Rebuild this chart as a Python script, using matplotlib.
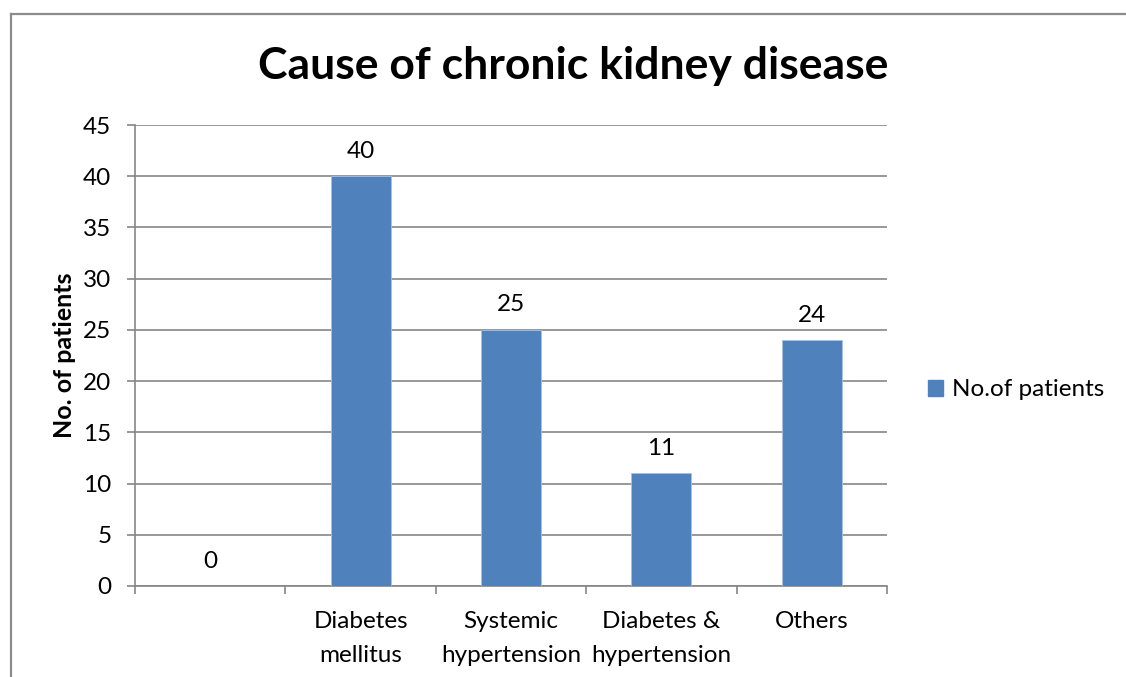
import matplotlib
matplotlib.use("Agg")
import matplotlib.pyplot as plt
from matplotlib.lines import Line2D
from matplotlib.patches import Patch
import numpy as np

categories = ["", "Diabetes\nmellitus", "Systemic\nhypertension",
              "Diabetes &\nhypertension", "Others"]
patients = [0, 40, 25, 11, 24]
series_name = "No.of patients"
title = "Cause of chronic kidney disease"
y_label = "No. of patients"
y_ticks = [0, 5, 10, 15, 20, 25, 30, 35, 40, 45]

plt.rcParams["font.family"] = ["Lato", "DejaVu Sans"]

W, H = 1126, 677
fig = plt.figure(figsize=(W / 100, H / 100), dpi=100)
fig.patch.set_facecolor("white")

grey = "#868686"
bar_color = "#4F81BD"
fs = 17.5

# outer chart frame (left and top edges visible)
fig.add_artist(Line2D([10.5 / W, 10.5 / W], [0, 1 - 13.5 / H],
                      transform=fig.transFigure, color="#8c8c8c", lw=1.6))
fig.add_artist(Line2D([10.5 / W, 1], [1 - 13.5 / H, 1 - 13.5 / H],
                      transform=fig.transFigure, color="#8c8c8c", lw=1.6))

# plot area
left, right, top, bottom = 135, 887, 125, 586
ax = fig.add_axes([left / W, (H - bottom) / H, (right - left) / W, (bottom - top) / H])

x = np.arange(len(categories))
bars = ax.bar(x, patients, width=0.4, color=bar_color, edgecolor="#a9c0df",
              linewidth=0.6, zorder=3, label=series_name)

for xi, v in zip(x, patients):
    ax.annotate(f"{v}", (xi, v), xytext=(0, 18), textcoords="offset points",
                ha="center", va="center", fontsize=fs, color="black")

ax.set_xlim(-0.5, len(categories) - 0.5)
ax.set_ylim(0, 45)
ax.set_yticks(y_ticks)
ax.set_yticklabels([str(t) for t in y_ticks], fontsize=fs)
ax.yaxis.grid(True, color=grey, lw=1.2, zorder=0)
ax.set_axisbelow(True)

ax.set_xticks(x)
ax.set_xticklabels(categories, fontsize=fs, linespacing=1.75)
ax.set_xticks(np.arange(-0.5, len(categories)), minor=True)
ax.tick_params(axis="x", which="major", length=0, pad=18)
ax.tick_params(axis="x", which="minor", length=6, width=1.2, color=grey, direction="out")
ax.tick_params(axis="y", length=6, width=1.2, color=grey, direction="out", pad=11)

for s in ["top", "right"]:
    ax.spines[s].set_visible(False)
for s in ["left", "bottom"]:
    ax.spines[s].set_color(grey)
    ax.spines[s].set_linewidth(1.2)

ax.set_ylabel(y_label, fontsize=18, fontweight="bold")
ax.yaxis.set_label_coords((76 - left) / (right - left), 0.5)

fig.text(573 / W, 1 - 66 / H, title, ha="center", va="center",
         fontsize=32, fontweight="bold")

handle = Patch(facecolor=bar_color, edgecolor=bar_color)
fig.legend([handle], [series_name], loc="center left",
           bbox_to_anchor=(928 / W, 1 - 390 / H), frameon=False,
           fontsize=fs, handlelength=0.6, handleheight=0.6, handletextpad=0.4,
           borderpad=0, borderaxespad=0)

fig.savefig("out.png", dpi=100, facecolor="white")
